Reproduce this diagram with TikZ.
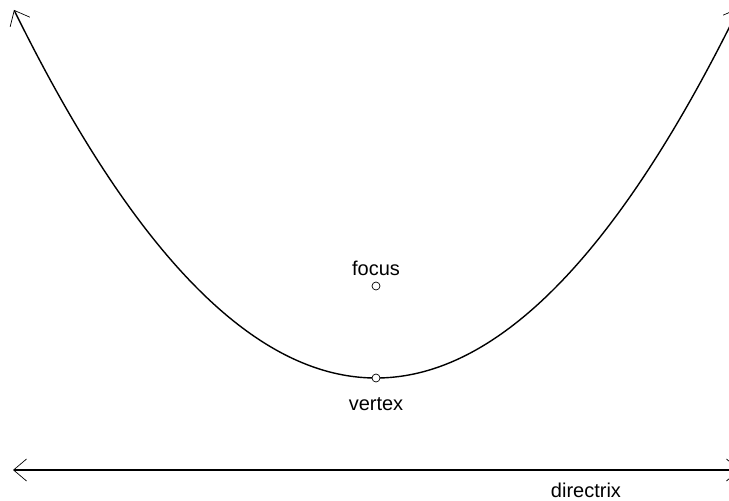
\documentclass[tikz,border=0pt]{standalone}
\usepackage{fontspec}
\setmainfont{Liberation Sans}
\usetikzlibrary{arrows.meta}
\begin{document}
\begin{tikzpicture}[x=1pt,y=-1pt,
  curveline/.style={line width=1.4pt},
  dot/.style={circle,draw,fill=white,inner sep=0pt,minimum size=8pt,line width=0.7pt},
  lbl/.style={font=\fontsize{20}{22}\selectfont,inner sep=0pt}]
\useasboundingbox (0,0) rectangle (729,501);
\clip (0,0) rectangle (729,501);
\coordinate (dl) at (13,470);
\coordinate (dr) at (740,470);
\draw[curveline,{Straight Barb[length=13pt,width=22pt,line width=0.7pt]}-{Straight Barb[length=13pt,width=22pt,line width=0.7pt]}] (dl) -- (dr);
\draw[curveline,{Straight Barb[length=13pt,width=22pt,line width=0.7pt]}-{Straight Barb[length=13pt,width=22pt,line width=0.7pt]},domain=14:739,samples=300,smooth]
  plot (\x,{378-((\x-376)/10)^2/3.56});
\node[dot] (focus) at (376,286) {};
\node[dot] (vertex) at (376,378) {};
\node[lbl,anchor=base] (flbl) at (376,275) {focus};
\node[lbl,anchor=base] (vlbl) at (376,410) {vertex};
\node[lbl,anchor=base] (dlbl) at (586,497) {directrix};
\end{tikzpicture}
\end{document}
